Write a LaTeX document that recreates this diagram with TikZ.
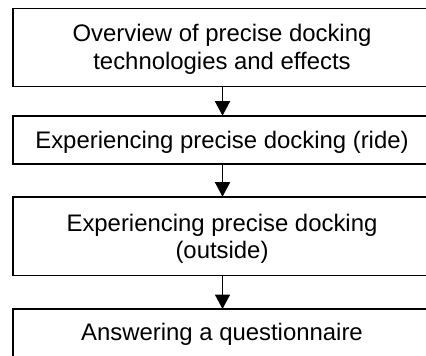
\documentclass[tikz,border=0pt]{standalone}
\usepackage{fontspec}
\setmainfont{Liberation Sans}
\usetikzlibrary{arrows.meta}
\begin{document}
\begin{tikzpicture}[x=1pt,y=-1pt,
  box/.style={draw, line width=1.6pt, minimum width=419pt, inner sep=0pt, outer sep=0pt},
  lbl/.style={font=\fontsize{23.9}{27.7}\selectfont, anchor=base, inner sep=0pt},
  arr/.style={line width=1.6pt, -{Triangle[width=15pt,length=14.5pt]}}]
\useasboundingbox (0,0) rectangle (426,356);
\clip (0,0) rectangle (426,356);
\node[box, minimum height=78pt]   (b1) at (222.5,47.5) {};
\node[box, minimum height=48.3pt] (b2) at (222.5,139.85) {};
\node[box, minimum height=78.6pt] (b3) at (222.5,236) {};
\node[box, minimum height=48.5pt] (b4) at (222.5,333.25) {};
\node[lbl] (t1a) at (222,41.7) {Overview of precise docking};
\node[lbl] (t1b) at (222,69.5) {technologies and effects};
\node[lbl] (t2) at (222,148.3) {Experiencing precise docking (ride)};
\node[lbl] (t3a) at (222,231.7) {Experiencing precise docking};
\node[lbl] (t3b) at (222,258) {(outside)};
\node[lbl] (t4) at (222,340) {Answering a questionnaire};
\draw[arr] (b1) -- (b2);
\draw[arr] (b2) -- (b3);
\draw[arr] (b3) -- (b4);
\end{tikzpicture}
\end{document}
